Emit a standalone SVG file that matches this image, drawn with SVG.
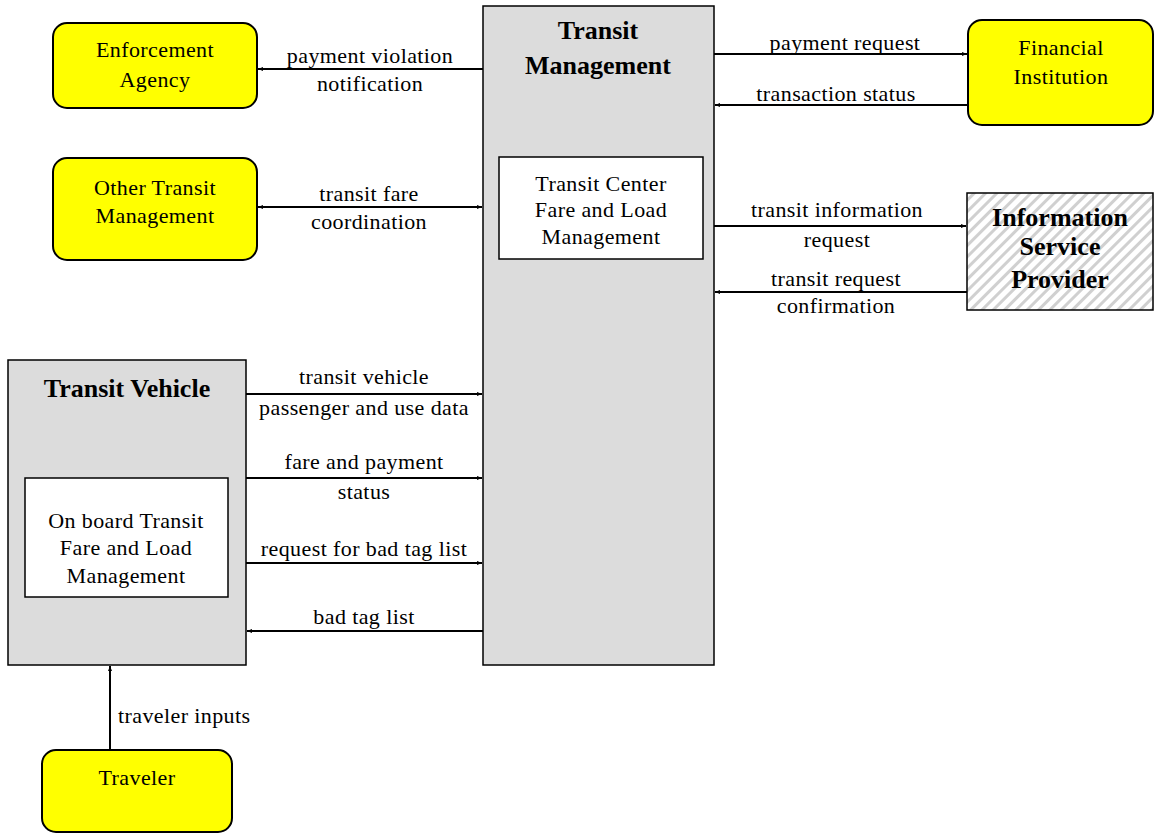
<svg xmlns="http://www.w3.org/2000/svg" width="1154" height="833" viewBox="0 0 1154 833">
<style>
.t{font-family:"Liberation Serif","Times New Roman",serif;font-size:22px;letter-spacing:0.4px;fill:#000;text-anchor:middle}
.b{font-family:"Liberation Serif","Times New Roman",serif;font-size:26px;font-weight:bold;fill:#000;text-anchor:middle}
.term{fill:#ffff00;stroke:#000;stroke-width:2}
.sys{fill:#dcdcdc;stroke:#000;stroke-width:1.5}
.inner{fill:#fff;stroke:#000;stroke-width:1.5}
.c{stroke:#000;stroke-width:2;fill:none}
</style>
<defs>
<marker id="ah" markerWidth="6" markerHeight="6" refX="5" refY="3" orient="auto" markerUnits="userSpaceOnUse">
<path d="M0,1 L5,3 L0,5 z" fill="#000"/>
</marker>
<marker id="as" markerWidth="6" markerHeight="6" refX="1" refY="3" orient="auto" markerUnits="userSpaceOnUse">
<path d="M6,1 L1,3 L6,5 z" fill="#000"/>
</marker>
<pattern id="hatch" width="8" height="8" patternUnits="userSpaceOnUse" patternTransform="rotate(45)">
<rect width="8" height="8" fill="#fff"/>
<rect x="0" y="0" width="3" height="8" fill="#d0d0d0"/>
</pattern>
</defs>

<g id="transit-management">
<rect class="sys" x="483" y="6" width="231" height="659"/>
<text class="b" x="598" y="39">Transit</text>
<text class="b" x="598" y="74">Management</text>
</g>
<g id="transit-center-fare">
<rect class="inner" x="499" y="157" width="204" height="102"/>
<text class="t" x="601" y="191">Transit Center</text>
<text class="t" x="601" y="217">Fare and Load</text>
<text class="t" x="601" y="244">Management</text>
</g>
<g id="enforcement-agency">
<rect class="term" x="53" y="23" width="204" height="85" rx="14"/>
<text class="t" x="155" y="57">Enforcement</text>
<text class="t" x="155" y="87">Agency</text>
</g>
<g id="other-transit-management">
<rect class="term" x="53" y="158" width="204" height="102" rx="14"/>
<text class="t" x="155" y="195">Other Transit</text>
<text class="t" x="155" y="223">Management</text>
</g>
<g id="financial-institution">
<rect class="term" x="968" y="20" width="185" height="105" rx="14"/>
<text class="t" x="1061" y="55">Financial</text>
<text class="t" x="1061" y="84">Institution</text>
</g>
<g id="information-service-provider">
<rect x="967" y="193" width="186" height="117" fill="url(#hatch)" stroke="#000" stroke-width="1.5"/>
<text class="b" x="1060" y="226">Information</text>
<text class="b" x="1060" y="255">Service</text>
<text class="b" x="1060" y="288">Provider</text>
</g>
<g id="transit-vehicle">
<rect class="sys" x="8" y="360" width="238" height="305"/>
<text class="b" x="127" y="397">Transit Vehicle</text>
</g>
<g id="onboard-fare">
<rect class="inner" x="25" y="478" width="203" height="119"/>
<text class="t" x="126" y="528">On board Transit</text>
<text class="t" x="126" y="555">Fare and Load</text>
<text class="t" x="126" y="583">Management</text>
</g>
<g id="traveler">
<rect class="term" x="42" y="750" width="190" height="82" rx="14"/>
<text class="t" x="137" y="785">Traveler</text>
</g>

<g id="connectors">
<line class="c" x1="483" y1="69" x2="258" y2="69" marker-end="url(#ah)"/>
<text class="t" x="370" y="63">payment violation</text>
<text class="t" x="370" y="91">notification</text>

<line class="c" x1="258" y1="207" x2="482" y2="207" marker-start="url(#as)" marker-end="url(#ah)"/>
<text class="t" x="369" y="201">transit fare</text>
<text class="t" x="369" y="229">coordination</text>

<line class="c" x1="714" y1="54" x2="967" y2="54" marker-end="url(#ah)"/>
<text class="t" x="845" y="50">payment request</text>

<line class="c" x1="968" y1="105" x2="715" y2="105" marker-end="url(#ah)"/>
<text class="t" x="836" y="101">transaction status</text>

<line class="c" x1="714" y1="226" x2="966" y2="226" marker-end="url(#ah)"/>
<text class="t" x="837" y="217">transit information</text>
<text class="t" x="837" y="247">request</text>

<line class="c" x1="967" y1="292" x2="715" y2="292" marker-end="url(#ah)"/>
<text class="t" x="836" y="286">transit request</text>
<text class="t" x="836" y="313">confirmation</text>

<line class="c" x1="246" y1="394" x2="482" y2="394" marker-end="url(#ah)"/>
<text class="t" x="364" y="384">transit vehicle</text>
<text class="t" x="364" y="415">passenger and use data</text>

<line class="c" x1="246" y1="478" x2="482" y2="478" marker-end="url(#ah)"/>
<text class="t" x="364" y="469">fare and payment</text>
<text class="t" x="364" y="499">status</text>

<line class="c" x1="246" y1="563" x2="482" y2="563" marker-end="url(#ah)"/>
<text class="t" x="364" y="556">request for bad tag list</text>

<line class="c" x1="483" y1="631" x2="247" y2="631" marker-end="url(#ah)"/>
<text class="t" x="364" y="624">bad tag list</text>

<line class="c" x1="110" y1="750" x2="110" y2="666" marker-end="url(#ah)"/>
<text class="t" x="118" y="723" style="text-anchor:start">traveler inputs</text>
</g>
</svg>
